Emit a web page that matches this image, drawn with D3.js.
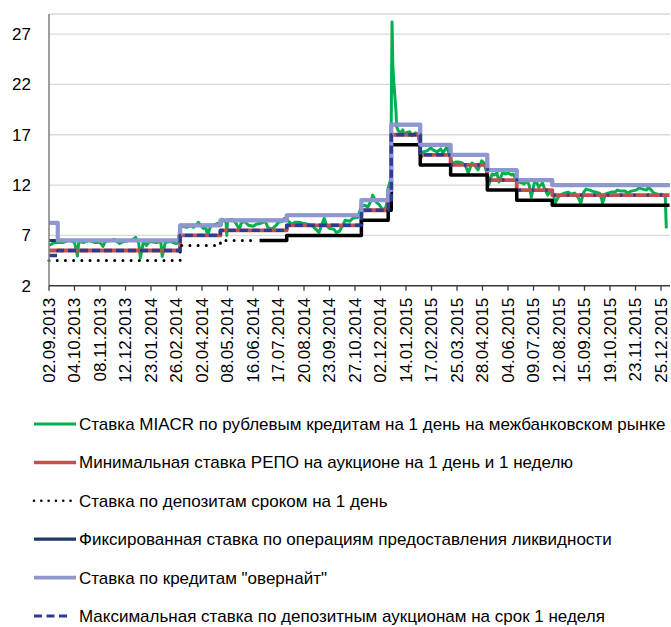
<!DOCTYPE html>
<html>
<head>
  <meta charset="utf-8">
  <title>Процентные ставки</title>
  <style>
    body { margin: 0; background: #fff; }
    .grid line { stroke: #d9d9d9; stroke-width: 1.3; }
    .axis text, .legend text {
      font-family: "Liberation Sans", Arial, sans-serif;
      font-size: 17px;
      fill: #000;
    }
    .series { fill: none; }
  </style>
  <script src="https://d3js.org/d3.v7.min.js"></script>
</head>
<body>
  <div id="chart"></div>
  <script>
    // x-axis labels (every 24th trading day)
    const tickLabels = ["02.09.2013", "04.10.2013", "08.11.2013", "12.12.2013", "23.01.2014",
      "26.02.2014", "02.04.2014", "08.05.2014", "16.06.2014", "17.07.2014", "20.08.2014",
      "23.09.2014", "27.10.2014", "02.12.2014", "14.01.2015", "17.02.2015", "25.03.2015",
      "28.04.2015", "04.06.2015", "09.07.2015", "12.08.2015", "15.09.2015", "19.10.2015",
      "23.11.2015", "25.12.2015"];
    // new-year breaks: [date, label index, trading days after that label]
    const holidayBreaks = [["31.12.2013", 3, 13], ["09.01.2014", 3, 14],
      ["31.12.2014", 13, 21], ["12.01.2015", 13, 22],
      ["31.12.2015", 24, 4], ["11.01.2016", 24, 5], ["14.01.2016", 24, 8]];
    const yTicks = [2, 7, 12, 17, 22, 27];

    const miacr = [["02.09.2013",6.0],["09.09.2013",6.3],["13.09.2013",6.3],["20.09.2013",6.3],["27.09.2013",6.5],["01.10.2013",6.4],["04.10.2013",6.3],["08.10.2013",4.95],["10.10.2013",6.4],["17.10.2013",6.3],["24.10.2013",6.5],["31.10.2013",6.3],["08.11.2013",6.3],["12.11.2013",5.9],["15.11.2013",6.4],["22.11.2013",6.5],["27.11.2013",6.6],["04.12.2013",6.2],["10.12.2013",6.4],["17.12.2013",6.5],["20.12.2013",6.5],["26.12.2013",6.8],["30.12.2013",6.3],["09.01.2014",4.75],["13.01.2014",6.4],["17.01.2014",6.0],["21.01.2014",6.4],["30.01.2014",6.3],["05.02.2014",6.4],["07.02.2014",4.9],["11.02.2014",6.3],["17.02.2014",6.4],["21.02.2014",6.3],["26.02.2014",6.2],["28.02.2014",6.3],["03.03.2014",7.8],["06.03.2014",7.9],["12.03.2014",7.8],["17.03.2014",8.0],["21.03.2014",7.8],["26.03.2014",8.1],["28.03.2014",8.3],["31.03.2014",8.0],["04.04.2014",7.7],["07.04.2014",7.9],["10.04.2014",7.0],["14.04.2014",7.9],["18.04.2014",8.0],["24.04.2014",8.2],["29.04.2014",8.0],["30.04.2014",8.6],["06.05.2014",8.3],["07.05.2014",7.0],["08.05.2014",8.5],["12.05.2014",8.5],["15.05.2014",8.6],["20.05.2014",8.3],["26.05.2014",7.6],["29.05.2014",8.2],["03.06.2014",8.4],["09.06.2014",8.0],["16.06.2014",7.9],["20.06.2014",8.1],["25.06.2014",8.2],["01.07.2014",8.4],["04.07.2014",7.8],["09.07.2014",7.6],["14.07.2014",8.0],["17.07.2014",8.3],["22.07.2014",8.4],["25.07.2014",8.7],["29.07.2014",8.5],["04.08.2014",8.1],["08.08.2014",8.3],["13.08.2014",8.3],["18.08.2014",8.2],["25.08.2014",8.1],["01.09.2014",7.9],["05.09.2014",7.6],["09.09.2014",7.3],["12.09.2014",7.9],["16.09.2014",8.7],["19.09.2014",8.0],["23.09.2014",7.7],["29.09.2014",7.6],["02.10.2014",7.3],["06.10.2014",7.4],["10.10.2014",7.9],["14.10.2014",8.5],["20.10.2014",8.4],["24.10.2014",8.7],["31.10.2014",8.8],["05.11.2014",9.9],["10.11.2014",10.0],["14.11.2014",9.8],["19.11.2014",10.5],["21.11.2014",11.0],["26.11.2014",10.3],["01.12.2014",10.0],["05.12.2014",9.5],["09.12.2014",9.8],["11.12.2014",10.5],["12.12.2014",11.7],["15.12.2014",12.5],["16.12.2014",18.5],["17.12.2014",28.2],["18.12.2014",24.0],["19.12.2014",22.5],["22.12.2014",19.5],["23.12.2014",17.8],["25.12.2014",17.4],["29.12.2014",17.2],["31.12.2014",17.5],["12.01.2015",17.0],["14.01.2015",17.2],["19.01.2015",17.3],["22.01.2015",16.9],["27.01.2015",17.2],["30.01.2015",17.0],["04.02.2015",14.8],["06.02.2015",15.3],["11.02.2015",15.4],["16.02.2015",15.7],["19.02.2015",15.5],["25.02.2015",15.3],["02.03.2015",15.6],["05.03.2015",15.2],["11.03.2015",15.8],["13.03.2015",15.3],["16.03.2015",14.6],["19.03.2015",14.1],["23.03.2015",14.3],["27.03.2015",14.3],["01.04.2015",14.2],["06.04.2015",13.8],["09.04.2015",13.2],["14.04.2015",14.2],["17.04.2015",14.0],["22.04.2015",13.5],["27.04.2015",14.4],["30.04.2015",14.2],["06.05.2015",12.8],["07.05.2015",12.0],["12.05.2015",13.1],["15.05.2015",13.0],["19.05.2015",13.2],["22.05.2015",12.3],["27.05.2015",13.2],["01.06.2015",13.1],["04.06.2015",13.2],["09.06.2015",13.0],["11.06.2015",13.1],["15.06.2015",12.6],["17.06.2015",12.3],["19.06.2015",12.3],["24.06.2015",12.2],["26.06.2015",12.1],["30.06.2015",12.4],["03.07.2015",12.0],["06.07.2015",10.8],["08.07.2015",11.5],["10.07.2015",12.2],["13.07.2015",12.3],["16.07.2015",11.8],["21.07.2015",12.2],["24.07.2015",11.6],["28.07.2015",11.0],["31.07.2015",11.4],["04.08.2015",11.2],["07.08.2015",10.2],["11.08.2015",10.8],["14.08.2015",11.0],["19.08.2015",11.2],["24.08.2015",11.3],["28.08.2015",11.1],["02.09.2015",11.2],["07.09.2015",10.7],["10.09.2015",10.2],["14.09.2015",11.3],["17.09.2015",11.6],["22.09.2015",11.5],["25.09.2015",11.4],["30.09.2015",11.3],["05.10.2015",11.2],["08.10.2015",10.6],["09.10.2015",10.2],["13.10.2015",11.1],["16.10.2015",11.2],["21.10.2015",11.3],["26.10.2015",11.3],["29.10.2015",11.5],["03.11.2015",11.4],["09.11.2015",11.4],["12.11.2015",11.2],["17.11.2015",11.4],["24.11.2015",11.5],["27.11.2015",11.7],["02.12.2015",11.6],["07.12.2015",11.5],["09.12.2015",11.8],["14.12.2015",11.4],["16.12.2015",11.2],["21.12.2015",11.1],["24.12.2015",11.0],["25.12.2015",11.1],["29.12.2015",11.0],["31.12.2015",10.8],["11.01.2016",7.7]];

    // step series: [date of change, value]; last entry = end of line
    const repoMin = [["02.09.2013",5.5],["03.03.2014",7.0],["28.04.2014",7.5],["28.07.2014",8.0],["05.11.2014",9.5],["12.12.2014",10.5],["16.12.2014",17.0],["02.02.2015",15.0],["16.03.2015",14.0],["05.05.2015",12.5],["16.06.2015",11.5],["03.08.2015",11.0],["14.01.2016",11.0]];
    const depositDotted = [["02.09.2013",4.5],["03.03.2014",6.0],["28.04.2014",6.5],["19.06.2014",6.5]];
    const depositSolid = [["24.06.2014",6.5],["28.07.2014",7.0],["05.11.2014",8.5],["12.12.2014",9.5],["16.12.2014",16.0],["02.02.2015",14.0],["16.03.2015",13.0],["05.05.2015",11.5],["16.06.2015",10.5],["03.08.2015",10.0],["14.01.2016",10.0]];
    const fixedRate = [["02.09.2013",6.5],["03.03.2014",8.0],["28.04.2014",8.5],["28.07.2014",9.0],["05.11.2014",10.5],["12.12.2014",11.5],["16.12.2014",18.0],["02.02.2015",16.0],["16.03.2015",15.0],["05.05.2015",13.5],["16.06.2015",12.5],["03.08.2015",12.0],["14.01.2016",12.0]];
    const overnight = [["02.09.2013",8.25],["13.09.2013",6.5],["03.03.2014",8.0],["28.04.2014",8.5],["28.07.2014",9.0],["05.11.2014",10.5],["12.12.2014",11.5],["16.12.2014",18.0],["02.02.2015",16.0],["16.03.2015",15.0],["05.05.2015",13.5],["16.06.2015",12.5],["03.08.2015",12.0],["14.01.2016",12.0]];
    const depoAuctionMax = [["02.09.2013",5.0],["13.09.2013",5.5],["03.03.2014",7.0],["28.04.2014",7.5],["28.07.2014",8.0],["05.11.2014",9.5],["12.12.2014",10.5],["16.12.2014",17.0],["02.02.2015",15.0],["16.03.2015",14.0],["05.05.2015",12.5],["16.06.2015",11.5],["03.08.2015",11.0],["14.01.2016",11.0]];

    const legendLabels = [
      "Ставка MIACR по рублевым кредитам на 1 день на межбанковском рынке",
      "Минимальная ставка РЕПО на аукционе на 1 день и 1 неделю",
      "Ставка по депозитам сроком на 1 день",
      "Фиксированная ставка по операциям предоставления ликвидности",
      "Ставка по кредитам \"овернайт\"",
      "Максимальная ставка по депозитным аукционам на срок 1 неделя"
    ];

    const width = 671, height = 627;
    const plot = { left: 49, right: 670, top: 14, bottom: 285.7 };
    const parse = d3.timeParse("%d.%m.%Y");

    const svg = d3.select("#chart").append("svg")
      .attr("width", width)
      .attr("height", height);

    // trading-day category axis: label dates equally spaced
    const anchors = tickLabels.map((d, i) => [parse(d), i])
      .concat(holidayBreaks.map(([d, i, n]) => [parse(d), i + n / 24]))
      .sort((a, b) => a[0] - b[0]);
    const xUnit = d3.scaleTime().domain(anchors.map(a => a[0])).range(anchors.map(a => a[1]));
    const xPix = d3.scaleLinear().domain([0, tickLabels.length - 1]).range([49, 661]);
    const x = d => xPix(xUnit(d));
    const y = d3.scaleLinear().domain([2, 29]).range([plot.bottom, plot.top]);

    // grid
    svg.append("g").attr("class", "grid")
      .selectAll("line")
      .data(yTicks.slice(1).concat([29]))
      .enter().append("line")
      .attr("x1", plot.left).attr("x2", plot.right)
      .attr("y1", d => y(d)).attr("y2", d => y(d));

    const toPts = arr => arr.map(([d, v]) => [parse(d), v]);
    const stepLine = d3.line().x(d => x(d[0])).y(d => y(d[1])).curve(d3.curveStepAfter);
    const plainLine = d3.line().x(d => x(d[0])).y(d => y(d[1]));

    const g = svg.append("g");
    const draw = (pts, gen, color, w, dash, cap) => g.append("path")
      .attr("class", "series")
      .attr("d", gen(pts))
      .attr("stroke", color)
      .attr("stroke-width", w)
      .attr("stroke-dasharray", dash || null)
      .attr("stroke-linecap", cap || "butt")
      .attr("stroke-linejoin", "round");

    const colors = {
      miacr: "#00b050", repo: "#c0504d", deposit: "#000000",
      fixed: "#1f3864", overnight: "#8f97d1", depo: "#2b3d91"
    };

    draw(toPts(miacr), plainLine, colors.miacr, 3);
    draw(toPts(repoMin), stepLine, colors.repo, 3.8);
    draw(toPts(depositDotted), stepLine, colors.deposit, 3, "0.01,8.2", "round");
    draw(toPts(depositSolid), stepLine, colors.deposit, 3.5);
    draw(toPts(fixedRate), stepLine, colors.fixed, 3);
    draw(toPts(overnight), stepLine, colors.overnight, 4.2);

    // dashed series: long dashes early, sparse short dashes later
    const split = parse("16.03.2015");
    const depo = toPts(depoAuctionMax);
    const before = depo.filter(d => d[0] < split);
    const vSplit = depo.filter(d => d[0] <= split).slice(-1)[0][1];
    const after = [[split, vSplit]].concat(depo.filter(d => d[0] > split));
    draw(before.concat([[split, before[before.length - 1][1]]]), stepLine, colors.depo, 3.4, "8,4");
    draw(after, stepLine, colors.depo, 3.4, "2.5,10.8");

    // axes
    const axisG = svg.append("g").attr("class", "axis");
    axisG.append("line")
      .attr("x1", plot.left).attr("x2", plot.left)
      .attr("y1", plot.top).attr("y2", plot.bottom)
      .attr("stroke", "#868686").attr("stroke-width", 1.6);
    axisG.append("line")
      .attr("x1", plot.left).attr("x2", plot.right)
      .attr("y1", plot.bottom).attr("y2", plot.bottom)
      .attr("stroke", "#3a3a3a").attr("stroke-width", 1.4);
    axisG.selectAll(".xtick")
      .data(tickLabels)
      .enter().append("line")
      .attr("x1", d => x(parse(d))).attr("x2", d => x(parse(d)))
      .attr("y1", plot.bottom).attr("y2", plot.bottom + 5)
      .attr("stroke", "#3a3a3a").attr("stroke-width", 1.3);
    axisG.selectAll(".xlabel")
      .data(tickLabels)
      .enter().append("text")
      .attr("transform", d => `translate(${x(parse(d))},${plot.bottom + 12}) rotate(-90)`)
      .attr("dy", "0.35em")
      .attr("text-anchor", "end")
      .text(d => d);
    axisG.selectAll(".ylabel")
      .data(yTicks)
      .enter().append("text")
      .attr("x", 31)
      .attr("y", d => y(d))
      .attr("dy", "0.35em")
      .attr("text-anchor", "end")
      .text(d => d);

    // legend
    const legendItems = [
      { color: colors.miacr, w: 3, x2: 76 },
      { color: colors.repo, w: 3.5, x2: 76 },
      { color: colors.deposit, w: 2.6, x2: 71, dash: "0.01,7.3", cap: "round" },
      { color: colors.fixed, w: 3.2, x2: 76 },
      { color: colors.overnight, w: 3.6, x2: 76 },
      { color: colors.depo, w: 3.2, x2: 70, dash: "8,4.5" }
    ];
    const legend = svg.append("g").attr("class", "legend");
    const rows = legend.selectAll("g")
      .data(legendLabels)
      .enter().append("g")
      .attr("transform", (d, i) => `translate(0,${424 + i * 38.4})`);
    rows.append("line")
      .attr("x1", 34)
      .attr("x2", (d, i) => legendItems[i].x2)
      .attr("stroke", (d, i) => legendItems[i].color)
      .attr("stroke-width", (d, i) => legendItems[i].w)
      .attr("stroke-dasharray", (d, i) => legendItems[i].dash || null)
      .attr("stroke-linecap", (d, i) => legendItems[i].cap || "butt");
    const texts = rows.append("text")
      .attr("x", 79)
      .attr("dy", "0.35em")
      .text(d => d);
    const lens = texts.nodes().map(n => n.getComputedTextLength());
    const k = Math.min(1, 589 / lens[0]);
    texts.attr("textLength", (d, i) => lens[i] * k)
      .attr("lengthAdjust", "spacingAndGlyphs");
  </script>
</body>
</html>
